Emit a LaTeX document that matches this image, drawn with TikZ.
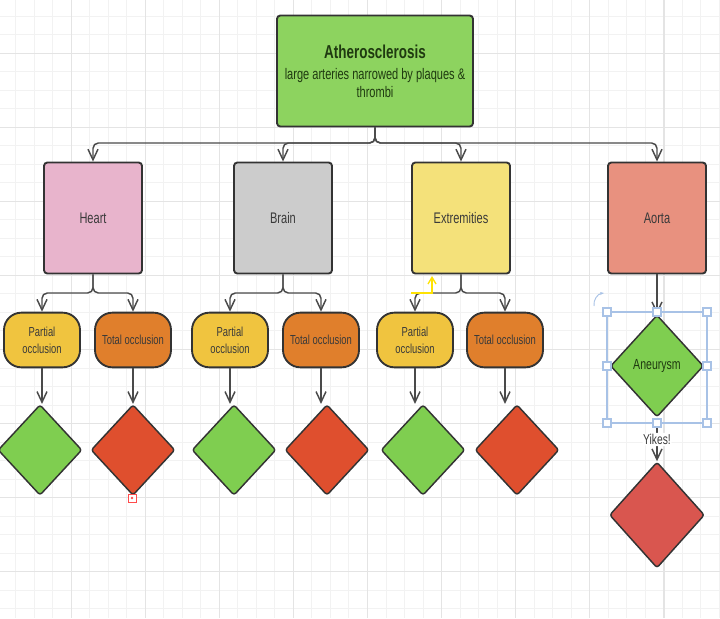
\documentclass[tikz,border=0pt]{standalone}
\usepackage{fontspec}
\setmainfont{Liberation Sans}[FakeStretch=0.72]
\usetikzlibrary{arrows.meta, positioning, shapes.geometric}

\definecolor{boxline}{HTML}{333333}
\definecolor{linegray}{HTML}{4A4A4A}
\definecolor{textgray}{HTML}{3A3A3A}
\definecolor{topgreen}{HTML}{8DD35F}
\definecolor{heartpink}{HTML}{E8B4CC}
\definecolor{braingray}{HTML}{CCCCCC}
\definecolor{extyellow}{HTML}{F4E17A}
\definecolor{aortasalmon}{HTML}{E8917F}
\definecolor{partialyellow}{HTML}{F0C43F}
\definecolor{totalorange}{HTML}{E07F2C}
\definecolor{gemgreen}{HTML}{7FCE50}
\definecolor{gemred}{HTML}{DF4F2E}
\definecolor{aortared}{HTML}{D9564F}
\definecolor{darkgreen}{HTML}{1F3A10}
\definecolor{selblue}{HTML}{A8C2E6}
\definecolor{gridminor}{HTML}{F2F2F2}
\definecolor{gridmajor}{HTML}{E4E4E4}

\begin{document}
\begin{tikzpicture}[x=0.75pt, y=-0.75pt,
    box/.style={draw=boxline, line width=1.4pt, rounded corners=2.5pt,
        minimum width=73.5pt, minimum height=83.25pt, align=center,
        text=textgray, font=\fontsize{11.5}{13}\selectfont},
    pill/.style={draw=boxline, line width=1.4pt, rounded corners=13pt,
        minimum width=57pt, minimum height=41pt, align=center, inner sep=1pt,
        text=textgray, font=\fontsize{9.8}{12.75}\selectfont},
    gem/.style={diamond, draw=boxline, line width=1.1pt, rounded corners=2pt,
        minimum width=63pt, minimum height=68pt, inner sep=0pt},
    conn/.style={draw=linegray, line width=1.1pt, rounded corners=4pt,
        -{Straight Barb[length=8pt,width=7.5pt]}},
    handle/.style={draw=selblue, fill=white, line width=0.8pt}
]
    \useasboundingbox (0,0) rectangle (720,618);
    \clip (0,0) rectangle (720,618);

    % background grid
    \foreach \g in {0,...,40} {
        \draw[gridminor, line width=0.6pt] ({\g*18.52-3},0) -- ({\g*18.52-3},618);
        \draw[gridminor, line width=0.6pt] (0,{\g*18.52-21}) -- (720,{\g*18.52-21});
    }
    \foreach \g in {0,...,10} {
        \draw[gridmajor, line width=0.9pt] ({\g*74.1-3},0) -- ({\g*74.1-3},618);
        \draw[gridmajor, line width=0.9pt] (0,{\g*74.1-21}) -- (720,{\g*74.1-21});
    }

    % top box
    \node[box, fill=topgreen, minimum width=147pt, text=darkgreen] (athero) at (375,71)
        {{\fontsize{14}{15}\selectfont\bfseries Atherosclerosis}\\[3pt]
         large arteries narrowed by plaques \&\\ thrombi};

    % second row
    \node[box, fill=heartpink] (heart) at (93,218) {Heart};
    \node[box, fill=braingray] (brain) at (283,218) {Brain};
    \node[box, fill=extyellow] (extrem) at (461,218) {Extremities};
    \node[box, fill=aortasalmon] (aorta) at (657,218) {Aorta};

    % occlusions
    \node[pill, fill=partialyellow] (hp) at (42,340) {Partial\\occlusion};
    \node[pill, fill=totalorange] (ht) at (133,340) {Total occlusion};
    \node[pill, fill=partialyellow] (bp) at (230,340) {Partial\\occlusion};
    \node[pill, fill=totalorange] (bt) at (321,340) {Total occlusion};
    \node[pill, fill=partialyellow] (ep) at (415,340) {Partial\\occlusion};
    \node[pill, fill=totalorange] (et) at (505,340) {Total occlusion};

    % outcome diamonds
    \node[gem, fill=gemgreen] (hpd) at (40,450) {};
    \node[gem, fill=gemred] (htd) at (133,450) {};
    \node[gem, fill=gemgreen] (bpd) at (234,450) {};
    \node[gem, fill=gemred] (btd) at (327,450) {};
    \node[gem, fill=gemgreen] (epd) at (423,450) {};
    \node[gem, fill=gemred] (etd) at (517,450) {};

    % aorta branch
    \node[gem, fill=gemgreen, minimum width=69.75pt, minimum height=76.5pt,
        text=darkgreen, font=\fontsize{11}{13}\selectfont] (aneur) at (657,366) {Aneurysm};
    \node[gem, fill=aortared, minimum width=71.25pt, minimum height=79.5pt] (ared) at (657,515) {};

    % connectors
    \coordinate (bus1) at (0,143);
    \coordinate (bus2) at (0,293);
    \foreach \n in {heart, brain, extrem, aorta}
        \draw[conn] (athero.south) |- (\n.north |- bus1) -- (\n.north);
    \foreach \p/\a/\b in {heart/hp/ht, brain/bp/bt, extrem/ep/et} {
        \draw[conn] (\p.south) |- (\a.north |- bus2) -- (\a.north);
        \draw[conn] (\p.south) |- (\b.north |- bus2) -- (\b.north);
    }
    \foreach \a/\d in {hp/hpd, ht/htd, bp/bpd, bt/btd, ep/epd, et/etd}
        \draw[conn] (\a.south) -- (\a.south |- \d.north);
    \draw[conn] (aorta.south) -- (aneur.north);
    \draw[conn] (aneur.south) -- node[fill=white, inner sep=1pt, text=textgray,
        font=\fontsize{10.7}{12}\selectfont] (yikes) {Yikes!} (ared.north);

    % selection frame round the aneurysm
    \draw[selblue, line width=0.9pt] (607,312) rectangle (707,423);
    \foreach \hx/\hy in {607/312, 657/312, 707/312, 607/366, 707/366, 607/423, 657/423, 707/423}
        \draw[handle] (\hx-4,\hy-4) rectangle (\hx+4,\hy+4);
    \draw[selblue, line width=0.7pt, -{Stealth[length=3pt]}] (594,306) to[bend left=45] (604,293);

    % editor marks
    \draw[yellow!85!orange, line width=1pt, -{Straight Barb[length=5pt,width=6pt]}]
        (411,293) -- (432,293) -- (432,276);
    \draw[red!70, line width=0.6pt, fill=white] (128,494) rectangle (136,502);
    \fill[red!70] (132,498) circle (1.3);
\end{tikzpicture}
\end{document}
